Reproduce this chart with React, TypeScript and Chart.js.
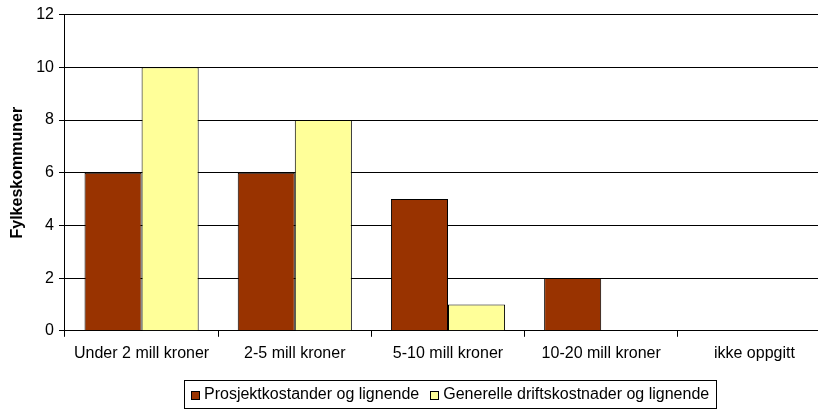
import React, { useEffect, useRef } from "react";
import { Chart, registerables } from "chart.js";

Chart.register(...registerables);

const categories = ["Under 2 mill kroner", "2-5 mill kroner", "5-10 mill kroner", "10-20 mill kroner", "ikke oppgitt"];
const seriesNames = ["Prosjektkostander og lignende", "Generelle driftskostnader og lignende"];
const seriesColors = ["#993300", "#FFFF99"];
const prosjekt = [6, 6, 5, 2, 0];
const generelle = [10, 8, 1, 0, 0];
const yTicks = [0, 2, 4, 6, 8, 10, 12];
const yTitle = "Fylkeskommuner";

const FONT = "'Liberation Sans', Arial, sans-serif";
const FS = 16;

const boxedLegend = {
  id: "boxedLegend",
  afterDraw(chart: any) {
    const ctx = chart.ctx;
    const ds = chart.data.datasets;
    ctx.save();
    ctx.font = `${FS}px ${FONT}`;
    const box = 9, gapBT = 4, gapItems = 11, padX = 7;
    const widths = ds.map((d: any) => ctx.measureText(d.label).width);
    let total = 0;
    widths.forEach((w: number, i: number) => {
      total += box + gapBT + w + (i < widths.length - 1 ? gapItems : 0);
    });
    const cx = 450;
    const left = Math.round(cx - total / 2 - padX);
    const right = Math.round(cx + total / 2 + padX);
    const top = 380, bottom = 408;
    const cy = (top + bottom) / 2 + 1;
    ctx.fillStyle = "#fff";
    ctx.fillRect(left, top, right - left, bottom - top);
    ctx.strokeStyle = "#000";
    ctx.lineWidth = 1;
    ctx.strokeRect(left + 0.5, top + 0.5, right - left, bottom - top);
    let x = left + padX;
    ctx.textBaseline = "middle";
    ctx.textAlign = "left";
    ds.forEach((d: any, i: number) => {
      const by = Math.round(cy - box / 2);
      ctx.fillStyle = d.backgroundColor;
      ctx.fillRect(Math.round(x), by, box, box);
      ctx.strokeRect(Math.round(x) + 0.5, by + 0.5, box - 1, box - 1);
      x += box + gapBT;
      ctx.fillStyle = "#000";
      ctx.fillText(d.label, x, cy);
      x += widths[i] + gapItems;
    });
    ctx.restore();
  },
};

export default function App() {
  const ref = useRef<HTMLCanvasElement>(null);
  useEffect(() => {
    if (!ref.current) return;
    const chart = new Chart(ref.current, {
      type: "bar",
      data: {
        labels: categories,
        datasets: [
          {
            label: seriesNames[0],
            data: prosjekt,
            backgroundColor: seriesColors[0],
            borderColor: "#000",
            borderWidth: 1,
            categoryPercentage: 0.745,
            barPercentage: 1,
          },
          {
            label: seriesNames[1],
            data: generelle,
            backgroundColor: seriesColors[1],
            borderColor: "#000",
            borderWidth: 1,
            categoryPercentage: 0.745,
            barPercentage: 1,
          },
        ],
      },
      options: {
        animation: false,
        responsive: false,
        maintainAspectRatio: false,
        layout: { padding: { top: 8, bottom: 40, left: 8, right: 3 } },
        plugins: {
          tooltip: { enabled: false },
          legend: { display: false },
        },
        scales: {
          x: {
            grid: { drawOnChartArea: false, drawTicks: true, tickLength: 6, color: "#000" },
            border: { color: "#000", width: 1 },
            ticks: { color: "#000", padding: 7, maxRotation: 0, font: { family: FONT, size: FS } },
          },
          y: {
            min: 0,
            max: 12,
            afterBuildTicks: (axis: any) => {
              axis.ticks = yTicks.map((v) => ({ value: v }));
            },
            grid: { color: "#000", tickLength: 6, tickColor: "#000" },
            border: { color: "#000", width: 1 },
            ticks: { color: "#000", padding: 5, font: { family: FONT, size: FS } },
            title: {
              display: true,
              text: yTitle,
              color: "#000",
              padding: { top: 0, bottom: 4 },
              font: { family: FONT, size: FS, weight: "bold" },
            },
          },
        },
      },
      plugins: [boxedLegend],
    });
    return () => chart.destroy();
  }, []);
  return (
    <div style={{ position: "fixed", left: 0, top: 0, width: 818, height: 410, overflow: "hidden", background: "#fff" }}>
      <canvas ref={ref} width={834} height={410} style={{ width: 834, height: 410, display: "block" }} />
    </div>
  );
}
